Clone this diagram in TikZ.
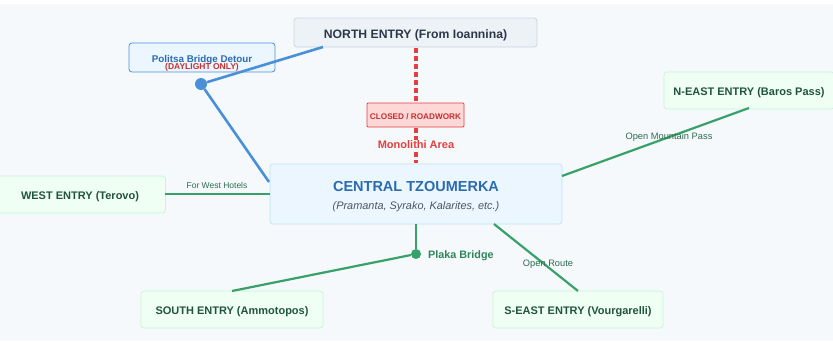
\documentclass[tikz,border=0pt]{standalone}
\usepackage{fontspec}
\setmainfont{Liberation Sans}
\definecolor{bgc}{HTML}{F5F9FC}
\definecolor{grayfill}{HTML}{EDF2F7}
\definecolor{grayline}{HTML}{CBD5E0}
\definecolor{darktxt}{HTML}{2D3748}
\definecolor{bluefill}{HTML}{EBF6FE}
\definecolor{blueline}{HTML}{4A90D9}
\definecolor{bluetxt}{HTML}{2B6CB0}
\definecolor{cenline}{HTML}{BEE3F8}
\definecolor{redc}{HTML}{E53E3E}
\definecolor{redtxt}{HTML}{C53030}
\definecolor{redfill}{HTML}{FED7D7}
\definecolor{greenfill}{HTML}{F0FFF4}
\definecolor{greenbord}{HTML}{C6F6D5}
\definecolor{greentxt}{HTML}{22543D}
\definecolor{greenline}{HTML}{38A169}
\definecolor{smalltxt}{HTML}{2F6B4F}
\definecolor{plakatxt}{HTML}{2F855A}
\definecolor{subtxt}{HTML}{4A5568}
\begin{document}
\begin{tikzpicture}[x=1pt,y=-1pt,
  box/.style={draw, rounded corners=3pt, line width=0.8pt, inner sep=0pt},
  entry/.style={box, fill=greenfill, draw=greenbord},
  etext/.style={text=greentxt, font=\bfseries\fontsize{11}{13}\selectfont, inner sep=0pt},
  road/.style={greenline, line width=2.2pt},
  detour/.style={blueline, line width=2.6pt},
  rlabel/.style={font=\fontsize{9.3}{10}\selectfont, text=smalltxt, inner sep=1pt}
]
\fill[bgc] (0,0) rectangle (833,341);
\fill[white] (0,0) rectangle (833,4);
\useasboundingbox (0,0) rectangle (833,341);

% boxes
\node[box, fill=grayfill, draw=grayline, minimum width=243pt, minimum height=29pt] (north) at (415.5,32.5) {};
\node[text=darktxt, font=\bfseries\fontsize{12.2}{14}\selectfont, inner sep=0pt] (northT) at (415.5,35.5) {NORTH ENTRY (From Ioannina)};
\node[box, fill=bluefill, draw=blueline, minimum width=146pt, minimum height=29pt] (politsa) at (202,57.5) {};
\node[text=bluetxt, font=\bfseries\fontsize{9.8}{11}\selectfont, inner sep=0pt] (politsaT) at (202,59.5) {Politsa Bridge Detour};
\node[text=redtxt, font=\bfseries\fontsize{8.5}{9}\selectfont, inner sep=0pt] (politsaS) at (202,67) {(DAYLIGHT ONLY)};
\node[box, fill=bluefill, draw=cenline, minimum width=292pt, minimum height=60pt] (central) at (416,194) {};
\node[text=bluetxt, font=\bfseries\fontsize{14.5}{16}\selectfont, inner sep=0pt] (centralT) at (416,187) {CENTRAL TZOUMERKA};
\node[text=subtxt, font=\itshape\fontsize{10.9}{12}\selectfont, inner sep=0pt] (centralS) at (416,206.5) {(Pramanta, Syrako, Kalarites, etc.)};
\node[entry, minimum width=175pt, minimum height=37pt] (west) at (78,194.5) {};
\node[etext] (westT) at (80,196.5) {WEST ENTRY (Terovo)};
\node[entry, minimum width=170pt, minimum height=37pt] (neast) at (749,90.5) {};
\node[etext] (neastT) at (749,93) {N-EAST ENTRY (Baros Pass)};
\node[entry, minimum width=182pt, minimum height=37pt] (south) at (232,309.5) {};
\node[etext] (southT2) at (232,311.5) {SOUTH ENTRY (Ammotopos)};
\node[entry, minimum width=170pt, minimum height=37pt] (seast) at (578,309.5) {};
\node[etext] (seastT) at (578,311.5) {S-EAST ENTRY (Vourgarelli)};

% points
\coordinate (northB) at (323,47);
\coordinate (northC) at (416,48);
\coordinate (cenTop) at (416,163);
\coordinate (cenNW) at (269,182);
\coordinate (cenW) at (270,194);
\coordinate (cenNE) at (562,176);
\coordinate (cenBot) at (416,224);
\coordinate (cenSE) at (494,224);
\coordinate (neB) at (749,108);
\coordinate (southT) at (232,291);
\coordinate (seT) at (578,291);
\coordinate (westE) at (165,194);

% closed road
\draw[redc, line width=3.2pt, dash pattern=on 5pt off 3pt] (northC) -- (cenTop);
\node[box, rounded corners=1pt, fill=redfill, draw=redc, minimum width=97pt, minimum height=24pt] (closed) at (415.5,115) {};
\node[text=redtxt, font=\bfseries\fontsize{8.2}{9}\selectfont, inner sep=0pt] (closedT) at (415.5,117) {CLOSED / ROADWORK};
\node[fill=bgc, text=redc, font=\bfseries\fontsize{11}{12}\selectfont, inner sep=1pt] (mono) at (416,145) {Monolithi Area};

% detour
\node[circle, fill=blueline, minimum size=12pt, inner sep=0pt] (bdot) at (201,84) {};
\draw[detour] (bdot) -- (northB);
\draw[detour] (bdot) -- (cenNW);

% green roads
\draw[road] (westE) -- (cenW);
\node[rlabel, font=\fontsize{8.5}{10}\selectfont] (lw) at (217,185.5) {For West Hotels};
\draw[road] (cenNE) -- (neB);
\node[rlabel] (lne) at (669,137.5) {Open Mountain Pass};
\node[circle, fill=greenline, minimum size=10pt, inner sep=0pt] (gdot) at (416,254) {};
\draw[road] (cenBot) -- (gdot);
\draw[road] (gdot) -- (southT);
\node[text=plakatxt, font=\bfseries\fontsize{10.8}{12}\selectfont, inner sep=0pt, anchor=west] (plaka) at (428,256) {Plaka Bridge};
\draw[road] (cenSE) -- (seT);
\node[rlabel] (lse) at (548,264.5) {Open Route};
\end{tikzpicture}
\end{document}
